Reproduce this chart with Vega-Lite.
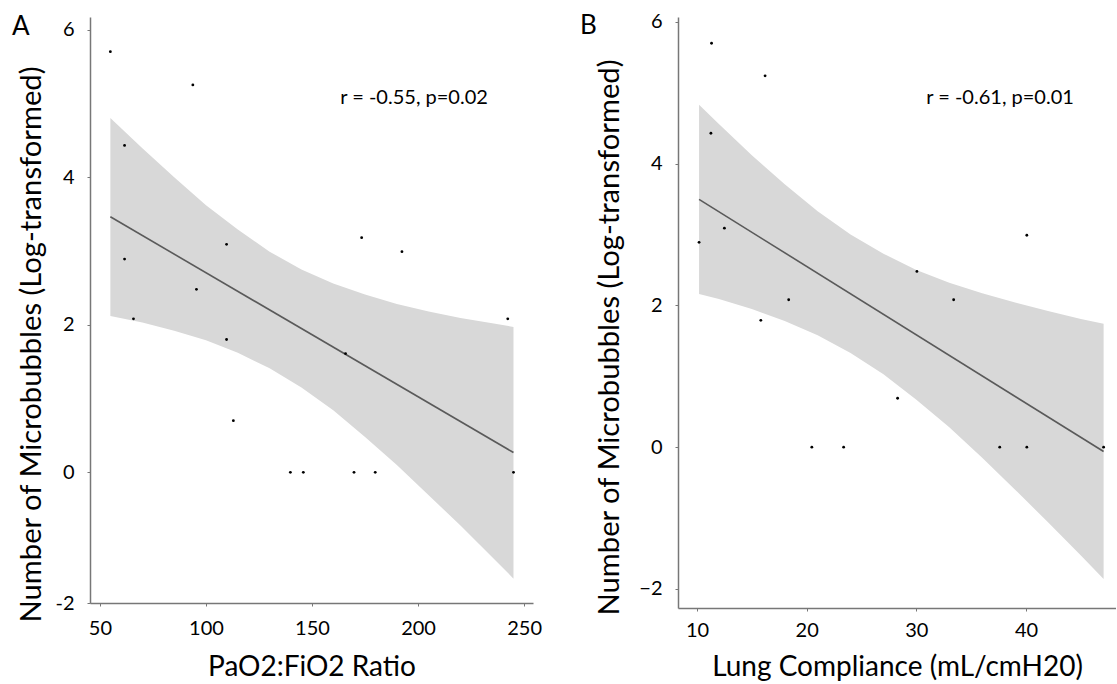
{
  "$schema": "https://vega.github.io/schema/vega-lite/v6.json",
  "padding": {"left": 12, "top": 11, "right": 0, "bottom": 2},
  "spacing": 38,
  "config": {
    "font": "Lato",
    "view": {"stroke": null},
    "axis": {
      "grid": false,
      "domainColor": "#777777",
      "domainWidth": 1.5,
      "tickColor": "#777777",
      "tickSize": 3,
      "labelFont": "Lato",
      "labelFontSize": 20,
      "labelColor": "#000000",
      "titleFont": "Lato",
      "titleFontSize": 28,
      "titleFontWeight": "normal",
      "titleColor": "#000000"
    }
  },
  "datasets": {
    "a": [
      {"x": 54.9, "y": 5.70}, {"x": 93.8, "y": 5.25}, {"x": 61.6, "y": 4.43}, {"x": 61.6, "y": 2.89},
      {"x": 109.7, "y": 3.09}, {"x": 95.5, "y": 2.48}, {"x": 173.4, "y": 3.18}, {"x": 192.4, "y": 2.99},
      {"x": 65.8, "y": 2.08}, {"x": 242.3, "y": 2.08}, {"x": 109.7, "y": 1.80}, {"x": 165.8, "y": 1.61},
      {"x": 112.9, "y": 0.70}, {"x": 139.8, "y": 0}, {"x": 145.9, "y": 0}, {"x": 169.8, "y": 0},
      {"x": 179.8, "y": 0}, {"x": 245.0, "y": 0}
    ],
    "aband": [
      {"x": 54.9, "lo": 2.12, "hi": 4.80}, {"x": 70, "lo": 2.03, "hi": 4.39}, {"x": 85, "lo": 1.92, "hi": 4.00},
      {"x": 100, "lo": 1.79, "hi": 3.62}, {"x": 115, "lo": 1.62, "hi": 3.29}, {"x": 130, "lo": 1.41, "hi": 2.99},
      {"x": 145, "lo": 1.15, "hi": 2.75}, {"x": 160, "lo": 0.84, "hi": 2.56}, {"x": 175, "lo": 0.48, "hi": 2.41},
      {"x": 190, "lo": 0.10, "hi": 2.28}, {"x": 205, "lo": -0.31, "hi": 2.18}, {"x": 220, "lo": -0.72, "hi": 2.09},
      {"x": 235, "lo": -1.15, "hi": 2.02}, {"x": 245.0, "lo": -1.44, "hi": 1.97}
    ],
    "b": [
      {"x": 11.33, "y": 5.70}, {"x": 16.21, "y": 5.24}, {"x": 11.27, "y": 4.43}, {"x": 12.50, "y": 3.09},
      {"x": 10.19, "y": 2.89}, {"x": 40.07, "y": 2.99}, {"x": 30.05, "y": 2.48}, {"x": 18.36, "y": 2.08},
      {"x": 33.40, "y": 2.08}, {"x": 15.82, "y": 1.79}, {"x": 28.29, "y": 0.69}, {"x": 20.47, "y": 0},
      {"x": 23.37, "y": 0}, {"x": 37.6, "y": 0}, {"x": 40.07, "y": 0}, {"x": 47.07, "y": 0}
    ],
    "bband": [
      {"x": 10.19, "lo": 2.16, "hi": 4.83}, {"x": 12, "lo": 2.09, "hi": 4.56}, {"x": 15, "lo": 1.95, "hi": 4.12},
      {"x": 18, "lo": 1.78, "hi": 3.71}, {"x": 21, "lo": 1.58, "hi": 3.33}, {"x": 24, "lo": 1.33, "hi": 3.00},
      {"x": 27, "lo": 1.03, "hi": 2.73}, {"x": 30, "lo": 0.67, "hi": 2.50}, {"x": 33, "lo": 0.28, "hi": 2.32},
      {"x": 36, "lo": -0.15, "hi": 2.17}, {"x": 39, "lo": -0.60, "hi": 2.04}, {"x": 42, "lo": -1.06, "hi": 1.92},
      {"x": 45, "lo": -1.53, "hi": 1.81}, {"x": 47.07, "lo": -1.86, "hi": 1.74}
    ]
  },
  "hconcat": [
    {
      "width": 443,
      "height": 586,
      "title": {"text": "A", "anchor": "start", "frame": "group", "dx": -78, "offset": -44, "baseline": "alphabetic", "fontSize": 26, "fontWeight": "normal", "font": "Lato", "color": "#000000"},
      "layer": [
        {
          "data": {"name": "aband"},
          "mark": {"type": "area", "color": "#d8d8d8", "opacity": 1},
          "encoding": {
            "x": {"field": "x", "type": "quantitative", "scale": {"domain": [45.3, 254.2], "nice": false, "zero": false},
                  "axis": {"title": "PaO2:FiO2 Ratio", "values": [50, 100, 150, 200, 250], "format": "d", "labelPadding": 12, "titlePadding": 15}},
            "y": {"field": "lo", "type": "quantitative", "scale": {"domain": [-1.77, 6.17], "nice": false, "zero": false},
                  "axis": {"title": "Number of Microbubbles (Log-transformed)", "values": [-1.77, 0, 2, 4, 6], "format": "d",
                           "labelExpr": "datum.value < -1 ? '-2' : datum.label", "labelPadding": 13, "titlePadding": 8,
                           "titleFontSize": 29.2, "titleY": 327}},
            "y2": {"field": "hi"}
          }
        },
        {
          "data": {"name": "a"},
          "transform": [{"regression": "y", "on": "x"}],
          "mark": {"type": "line", "color": "#5a5a5a", "strokeWidth": 1.6},
          "encoding": {
            "x": {"field": "x", "type": "quantitative"},
            "y": {"field": "y", "type": "quantitative"}
          }
        },
        {
          "data": {"name": "a"},
          "mark": {"type": "circle", "size": 8, "color": "#000000", "opacity": 1},
          "encoding": {
            "x": {"field": "x", "type": "quantitative"},
            "y": {"field": "y", "type": "quantitative"}
          }
        },
        {
          "data": {"values": [{}]},
          "mark": {"type": "text", "align": "left", "baseline": "middle", "fontSize": 20, "font": "Lato", "color": "#000000"},
          "encoding": {
            "x": {"datum": 163.3, "type": "quantitative"},
            "y": {"datum": 5.07, "type": "quantitative"},
            "text": {"value": "r = -0.55, p=0.02"}
          }
        }
      ]
    },
    {
      "width": 438,
      "height": 591,
      "title": {"text": "B", "anchor": "start", "frame": "group", "dx": -98, "offset": -48, "baseline": "alphabetic", "fontSize": 26, "fontWeight": "normal", "font": "Lato", "color": "#000000"},
      "layer": [
        {
          "data": {"name": "bband"},
          "mark": {"type": "area", "color": "#d8d8d8", "opacity": 1},
          "encoding": {
            "x": {"field": "x", "type": "quantitative", "scale": {"domain": [8.27, 48.2], "nice": false, "zero": false},
                  "axis": {"title": "Lung Compliance (mL/cmH20)", "values": [10, 20, 30, 40], "format": "d", "labelPadding": 9, "titlePadding": 13}},
            "y": {"field": "lo", "type": "quantitative", "scale": {"domain": [-2.27, 6.07], "nice": false, "zero": false},
                  "axis": {"title": "Number of Microbubbles (Log-transformed)", "values": [-2, 0, 2, 4, 6], "format": "d", "labelPadding": 13, "titlePadding": 14,
                           "titleFontSize": 29.2, "titleY": 320}},
            "y2": {"field": "hi"}
          }
        },
        {
          "data": {"name": "b"},
          "transform": [{"regression": "y", "on": "x"}],
          "mark": {"type": "line", "color": "#5a5a5a", "strokeWidth": 1.6},
          "encoding": {
            "x": {"field": "x", "type": "quantitative"},
            "y": {"field": "y", "type": "quantitative"}
          }
        },
        {
          "data": {"name": "b"},
          "mark": {"type": "circle", "size": 8, "color": "#000000", "opacity": 1},
          "encoding": {
            "x": {"field": "x", "type": "quantitative"},
            "y": {"field": "y", "type": "quantitative"}
          }
        },
        {
          "data": {"values": [{}]},
          "mark": {"type": "text", "align": "left", "baseline": "middle", "fontSize": 20, "font": "Lato", "color": "#000000"},
          "encoding": {
            "x": {"datum": 30.9, "type": "quantitative"},
            "y": {"datum": 4.92, "type": "quantitative"},
            "text": {"value": "r = -0.61, p=0.01"}
          }
        }
      ]
    }
  ]
}
